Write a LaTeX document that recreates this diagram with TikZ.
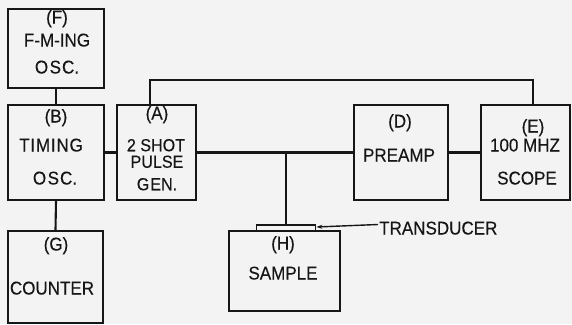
\documentclass[tikz,border=0pt]{standalone}
\usepackage{fontspec}
\setmainfont{Liberation Sans}[FakeStretch=0.92, FakeBold=0.3]
\usetikzlibrary{arrows.meta}
\definecolor{ink}{RGB}{22,22,22}
\definecolor{paper}{RGB}{243,243,243}
\tikzset{
  box/.style={draw=ink, line width=2.2pt, inner sep=0pt, fill=none},
  wire/.style={draw=ink, line width=2.1pt},
  lbl/.style={inner sep=0pt, text=ink, text height=13pt, text depth=0pt, font=\fontsize{18.5}{18.5}\selectfont},
  slbl/.style={inner sep=0pt, text=ink, text height=12.5pt, text depth=0pt, font=\fontsize{17.5}{17.5}\selectfont},
}
\begin{document}
\begin{tikzpicture}[x=1pt,y=-1pt]
\fill[paper] (0,0) rectangle (572,324);
\useasboundingbox (0,0) rectangle (572,324);
% boxes
\node[box, minimum width=96pt, minimum height=79pt] (F) at (56,48.5) {};
\node[box, minimum width=96pt, minimum height=95pt] (B) at (56,152.5) {};
\node[box, minimum width=95pt, minimum height=92pt] (G) at (55.5,277) {};
\node[box, minimum width=79pt, minimum height=95pt] (A) at (156.5,152.5) {};
\node[box, minimum width=94pt, minimum height=95pt] (D) at (401,152.5) {};
\node[box, minimum width=89pt, minimum height=95pt] (E) at (525.5,152.5) {};
\node[box, minimum width=111pt, minimum height=80pt] (H) at (284.5,271) {};
\node[box, line width=1.7pt, minimum width=59pt, minimum height=6pt] (T) at (286,228) {};
% labels
\node[lbl] (fa) at (57,17) {(F)};
\node[lbl] (fb) at (57,40) {F-M-ING};
\node[lbl] (fc) at (57,67) {O\kern1.5pt S\kern1pt C.};
\node[lbl] (ba) at (56,116) {(B)};
\node[lbl] (bb) at (51,145) {T\kern.8pt I\kern.8pt M\kern.8pt I\kern.8pt N\kern.8pt G};
\node[lbl] (bc) at (55,178) {O\kern1.5pt S\kern1pt C.};
\node[lbl] (ga) at (56,244) {(G)};
\node[lbl] (gb) at (52,288) {COUNTER};
\node[lbl] (aa) at (157,113) {(A)};
\node[slbl] (ab) at (156,145) {2 SHOT};
\node[slbl] (ac) at (157,161.5) {PULSE};
\node[slbl] (ad) at (157,184) {G\kern1pt EN.};
\node[lbl] (da) at (400,121) {(D)};
\node[lbl] (db) at (399,155) {PREAMP};
\node[lbl] (ea) at (533,126) {(E)};
\node[lbl] (eb) at (525,145) {100 MHZ};
\node[lbl] (ec) at (527,178) {SCOPE};
\node[lbl] (ha) at (283,243) {(H)};
\node[lbl] (hb) at (283,273) {SAMPLE};
\node[lbl, anchor=west] (tr) at (379,228) {TRANSDUCER};
% connectors
\draw[wire] (F.south) -- (B.north);
\draw[wire] (B.south) -- (G.north);
\draw[wire] (B.east) -- (A.west);
\draw[wire] (A.east) -- (D.west);
\draw[wire] (D.east) -- (E.west);
\coordinate (j) at (T.north |- A.east);
\draw[wire] (j) -- (T.north);
\draw[wire] ([xshift=-6.5pt]A.north) -- ++(0,-24) -| ([xshift=7.5pt]E.north);
\coordinate (tl) at (378,224.5);
\draw[draw=ink, line width=1.4pt, -{Stealth[length=6pt,width=4pt]}] (tl) -- ([yshift=1pt]T.east);
\end{tikzpicture}
\end{document}
